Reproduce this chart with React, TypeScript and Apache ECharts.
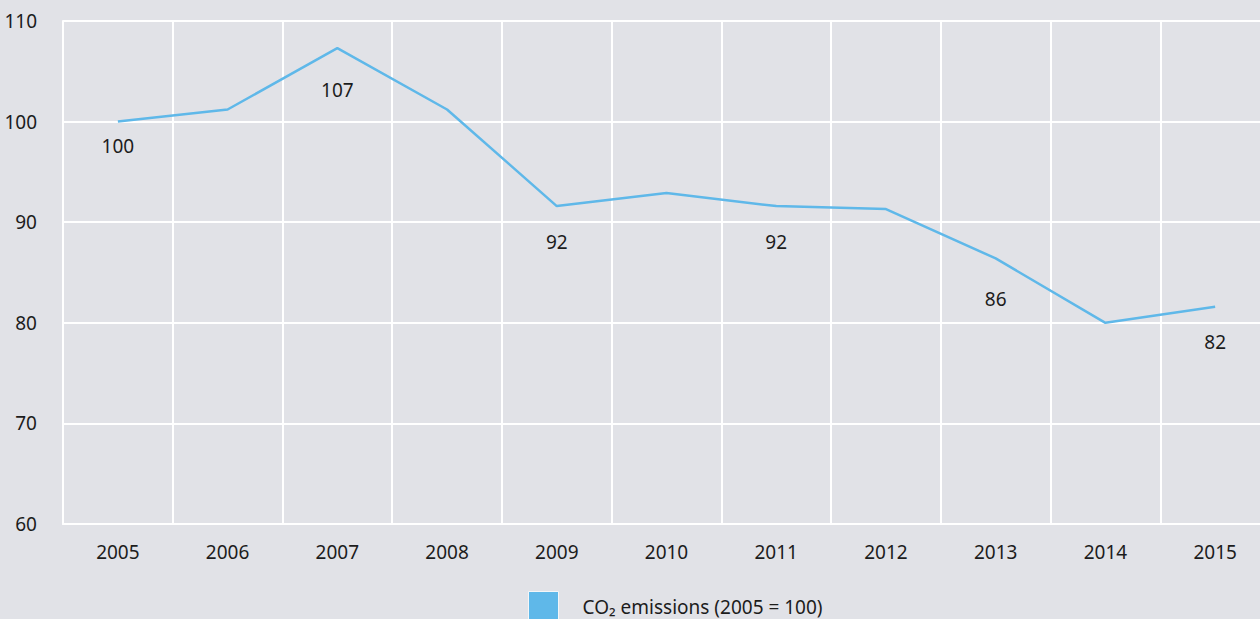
import React, { useEffect, useRef } from "react";
import * as echarts from "echarts";

// CO2 emissions index, 2005 = 100
const years = ["2005", "2006", "2007", "2008", "2009", "2010", "2011", "2012", "2013", "2014", "2015"];
const emissionsIndex = [100, 101.2, 107.3, 101.2, 91.6, 92.9, 91.6, 91.3, 86.4, 80.0, 81.6];
// Years whose value is printed next to the line
const labelledYears = ["2005", "2007", "2009", "2011", "2013", "2015"];
const seriesName = "CO₂ emissions (2005 = 100)";

// Distance of each printed value below its point, in pixels
const labelGap: Record<string, number> = {
  "2005": 14,
  "2007": 32,
  "2009": 26,
  "2011": 26,
  "2013": 31,
  "2015": 25,
};

const FONT = "'Noto Sans', sans-serif";
const FS = 19;
const TEXT = "#1c1c1c";
const LINE = "#5fb8e9";
const BG = "#e1e2e7";

export default function App() {
  const ref = useRef<HTMLDivElement>(null);

  useEffect(() => {
    if (!ref.current) return;
    const chart = echarts.init(ref.current, undefined, { renderer: "svg" });
    chart.setOption({
      animation: false,
      backgroundColor: BG,
      textStyle: { fontFamily: FONT },
      // the plot runs a little past the right edge of the visible frame
      grid: { left: 63, top: 21, width: 1207, height: 503, containLabel: false },
      legend: {
        data: [seriesName],
        left: 528,
        top: 591,
        padding: 0,
        itemWidth: 30,
        itemHeight: 30,
        icon: "rect",
        itemStyle: { color: LINE, borderColor: "#f4f6f8", borderWidth: 1 },
        textStyle: {
          fontFamily: FONT,
          fontSize: FS,
          color: TEXT,
          padding: [0, 0, 0, 19],
        },
      },
      xAxis: {
        type: "category",
        data: years,
        boundaryGap: true,
        axisLine: { show: true, lineStyle: { color: "#ffffff", width: 2 } },
        axisTick: { show: false },
        axisLabel: { color: TEXT, fontSize: FS, fontFamily: FONT, margin: 18 },
        splitLine: { show: true, interval: 0, lineStyle: { color: "#ffffff", width: 2 } },
      },
      yAxis: {
        type: "value",
        min: 60,
        max: 110,
        interval: 10,
        axisLine: { show: true, lineStyle: { color: "#ffffff", width: 2 } },
        axisTick: { show: false },
        axisLabel: { color: TEXT, fontSize: FS, fontFamily: FONT, margin: 26 },
        splitLine: { show: true, lineStyle: { color: "#ffffff", width: 2 } },
      },
      series: [
        {
          name: seriesName,
          type: "line",
          showSymbol: true,
          symbol: "circle",
          symbolSize: 1,
          itemStyle: { color: "rgba(0,0,0,0)" },
          color: LINE,
          lineStyle: { color: LINE, width: 2.5 },
          data: emissionsIndex.map((v, i) => {
            const year = years[i];
            const shown = labelledYears.includes(year);
            return {
              value: v,
              label: {
                show: shown,
                position: "bottom",
                distance: labelGap[year] ?? 20,
                color: TEXT,
                fontSize: FS,
                fontFamily: FONT,
                formatter: (p: any) => String(Math.round(p.value)),
              },
            };
          }),
        },
      ],
    });
    return () => chart.dispose();
  }, []);

  return (
    <div
      style={{
        position: "fixed",
        left: 0,
        top: 0,
        width: 1260,
        height: 619,
        overflow: "hidden",
        background: BG,
      }}
    >
      <div ref={ref} style={{ width: 1272, height: 619 }} />
    </div>
  );
}
